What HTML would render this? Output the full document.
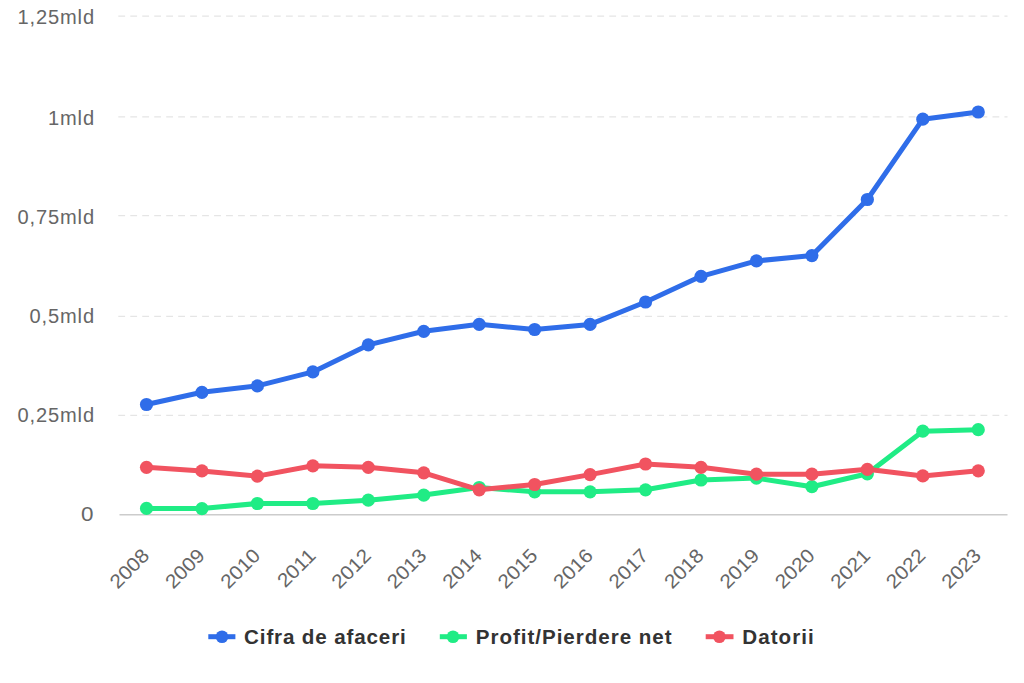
<!DOCTYPE html>
<html><head><meta charset="utf-8"><style>
html,body{margin:0;padding:0;background:#fff;width:1024px;height:683px;overflow:hidden}
svg{display:block}
text{font-family:"Liberation Sans",sans-serif}
</style></head><body>
<svg width="1024" height="683" viewBox="0 0 1024 683">
<rect width="1024" height="683" fill="#fff"/>

<line x1="118.3" y1="16.20" x2="1007.5" y2="16.20" stroke="#e5e5e5" stroke-width="1.2" stroke-dasharray="6.8,5.175"/>
<line x1="118.3" y1="116.80" x2="1007.5" y2="116.80" stroke="#e5e5e5" stroke-width="1.2" stroke-dasharray="6.8,5.175"/>
<line x1="118.3" y1="215.70" x2="1007.5" y2="215.70" stroke="#e5e5e5" stroke-width="1.2" stroke-dasharray="6.8,5.175"/>
<line x1="118.3" y1="316.40" x2="1007.5" y2="316.40" stroke="#e5e5e5" stroke-width="1.2" stroke-dasharray="6.8,5.175"/>
<line x1="118.3" y1="415.40" x2="1007.5" y2="415.40" stroke="#e5e5e5" stroke-width="1.2" stroke-dasharray="6.8,5.175"/>
<line x1="119.5" y1="514.7" x2="1007.5" y2="514.7" stroke="#cccccc" stroke-width="1.4"/>
<text transform="translate(94.98 23.6) scale(1.03 1)" font-size="19.5" fill="#666" text-anchor="end" letter-spacing="0.85">1,25mld</text>
<text transform="translate(94.98 124.5) scale(1.03 1)" font-size="19.5" fill="#666" text-anchor="end" letter-spacing="0.85">1mld</text>
<text transform="translate(94.98 223.7) scale(1.03 1)" font-size="19.5" fill="#666" text-anchor="end" letter-spacing="0.85">0,75mld</text>
<text transform="translate(94.98 322.8) scale(1.03 1)" font-size="19.5" fill="#666" text-anchor="end" letter-spacing="0.85">0,5mld</text>
<text transform="translate(94.98 421.7) scale(1.03 1)" font-size="19.5" fill="#666" text-anchor="end" letter-spacing="0.85">0,25mld</text>
<text transform="translate(93.50 520.5) scale(1.15 1)" font-size="19.5" fill="#666" text-anchor="end" letter-spacing="0">0</text>
<text transform="translate(150.50 556.9) rotate(-45) scale(1.07 1)" font-size="19.5" fill="#666" text-anchor="end">2008</text>
<text transform="translate(205.95 556.9) rotate(-45) scale(1.07 1)" font-size="19.5" fill="#666" text-anchor="end">2009</text>
<text transform="translate(261.40 556.9) rotate(-45) scale(1.07 1)" font-size="19.5" fill="#666" text-anchor="end">2010</text>
<text transform="translate(316.85 556.9) rotate(-45) scale(1.07 1)" font-size="19.5" fill="#666" text-anchor="end">2011</text>
<text transform="translate(372.30 556.9) rotate(-45) scale(1.07 1)" font-size="19.5" fill="#666" text-anchor="end">2012</text>
<text transform="translate(427.75 556.9) rotate(-45) scale(1.07 1)" font-size="19.5" fill="#666" text-anchor="end">2013</text>
<text transform="translate(483.20 556.9) rotate(-45) scale(1.07 1)" font-size="19.5" fill="#666" text-anchor="end">2014</text>
<text transform="translate(538.65 556.9) rotate(-45) scale(1.07 1)" font-size="19.5" fill="#666" text-anchor="end">2015</text>
<text transform="translate(594.10 556.9) rotate(-45) scale(1.07 1)" font-size="19.5" fill="#666" text-anchor="end">2016</text>
<text transform="translate(649.55 556.9) rotate(-45) scale(1.07 1)" font-size="19.5" fill="#666" text-anchor="end">2017</text>
<text transform="translate(705.00 556.9) rotate(-45) scale(1.07 1)" font-size="19.5" fill="#666" text-anchor="end">2018</text>
<text transform="translate(760.45 556.9) rotate(-45) scale(1.07 1)" font-size="19.5" fill="#666" text-anchor="end">2019</text>
<text transform="translate(815.90 556.9) rotate(-45) scale(1.07 1)" font-size="19.5" fill="#666" text-anchor="end">2020</text>
<text transform="translate(871.35 556.9) rotate(-45) scale(1.07 1)" font-size="19.5" fill="#666" text-anchor="end">2021</text>
<text transform="translate(926.80 556.9) rotate(-45) scale(1.07 1)" font-size="19.5" fill="#666" text-anchor="end">2022</text>
<text transform="translate(982.25 556.9) rotate(-45) scale(1.07 1)" font-size="19.5" fill="#666" text-anchor="end">2023</text>
<polyline points="146.50,404.50 201.95,392.30 257.40,385.90 312.85,371.90 368.30,344.90 423.75,331.30 479.20,324.30 534.65,329.50 590.10,324.40 645.55,302.00 701.00,276.30 756.45,260.90 811.90,255.60 867.35,199.50 922.80,119.20 978.25,112.00" fill="none" stroke="#2f6de9" stroke-width="5.0" stroke-linejoin="round" stroke-linecap="round"/>
<circle cx="146.50" cy="404.50" r="6.6" fill="#2f6de9"/>
<circle cx="201.95" cy="392.30" r="6.6" fill="#2f6de9"/>
<circle cx="257.40" cy="385.90" r="6.6" fill="#2f6de9"/>
<circle cx="312.85" cy="371.90" r="6.6" fill="#2f6de9"/>
<circle cx="368.30" cy="344.90" r="6.6" fill="#2f6de9"/>
<circle cx="423.75" cy="331.30" r="6.6" fill="#2f6de9"/>
<circle cx="479.20" cy="324.30" r="6.6" fill="#2f6de9"/>
<circle cx="534.65" cy="329.50" r="6.6" fill="#2f6de9"/>
<circle cx="590.10" cy="324.40" r="6.6" fill="#2f6de9"/>
<circle cx="645.55" cy="302.00" r="6.6" fill="#2f6de9"/>
<circle cx="701.00" cy="276.30" r="6.6" fill="#2f6de9"/>
<circle cx="756.45" cy="260.90" r="6.6" fill="#2f6de9"/>
<circle cx="811.90" cy="255.60" r="6.6" fill="#2f6de9"/>
<circle cx="867.35" cy="199.50" r="6.6" fill="#2f6de9"/>
<circle cx="922.80" cy="119.20" r="6.6" fill="#2f6de9"/>
<circle cx="978.25" cy="112.00" r="6.6" fill="#2f6de9"/>
<polyline points="146.50,508.40 201.95,508.60 257.40,503.50 312.85,503.50 368.30,500.20 423.75,495.10 479.20,487.50 534.65,491.80 590.10,491.80 645.55,489.80 701.00,480.00 756.45,478.10 811.90,486.70 867.35,473.80 922.80,431.20 978.25,429.70" fill="none" stroke="#20ec85" stroke-width="5.0" stroke-linejoin="round" stroke-linecap="round"/>
<circle cx="146.50" cy="508.40" r="6.6" fill="#20ec85"/>
<circle cx="201.95" cy="508.60" r="6.6" fill="#20ec85"/>
<circle cx="257.40" cy="503.50" r="6.6" fill="#20ec85"/>
<circle cx="312.85" cy="503.50" r="6.6" fill="#20ec85"/>
<circle cx="368.30" cy="500.20" r="6.6" fill="#20ec85"/>
<circle cx="423.75" cy="495.10" r="6.6" fill="#20ec85"/>
<circle cx="479.20" cy="487.50" r="6.6" fill="#20ec85"/>
<circle cx="534.65" cy="491.80" r="6.6" fill="#20ec85"/>
<circle cx="590.10" cy="491.80" r="6.6" fill="#20ec85"/>
<circle cx="645.55" cy="489.80" r="6.6" fill="#20ec85"/>
<circle cx="701.00" cy="480.00" r="6.6" fill="#20ec85"/>
<circle cx="756.45" cy="478.10" r="6.6" fill="#20ec85"/>
<circle cx="811.90" cy="486.70" r="6.6" fill="#20ec85"/>
<circle cx="867.35" cy="473.80" r="6.6" fill="#20ec85"/>
<circle cx="922.80" cy="431.20" r="6.6" fill="#20ec85"/>
<circle cx="978.25" cy="429.70" r="6.6" fill="#20ec85"/>
<polyline points="146.50,467.30 201.95,470.90 257.40,476.10 312.85,465.80 368.30,467.30 423.75,472.80 479.20,489.80 534.65,484.50 590.10,474.60 645.55,464.00 701.00,467.30 756.45,474.20 811.90,474.20 867.35,469.30 922.80,475.90 978.25,470.80" fill="none" stroke="#f15360" stroke-width="5.0" stroke-linejoin="round" stroke-linecap="round"/>
<circle cx="146.50" cy="467.30" r="6.6" fill="#f15360"/>
<circle cx="201.95" cy="470.90" r="6.6" fill="#f15360"/>
<circle cx="257.40" cy="476.10" r="6.6" fill="#f15360"/>
<circle cx="312.85" cy="465.80" r="6.6" fill="#f15360"/>
<circle cx="368.30" cy="467.30" r="6.6" fill="#f15360"/>
<circle cx="423.75" cy="472.80" r="6.6" fill="#f15360"/>
<circle cx="479.20" cy="489.80" r="6.6" fill="#f15360"/>
<circle cx="534.65" cy="484.50" r="6.6" fill="#f15360"/>
<circle cx="590.10" cy="474.60" r="6.6" fill="#f15360"/>
<circle cx="645.55" cy="464.00" r="6.6" fill="#f15360"/>
<circle cx="701.00" cy="467.30" r="6.6" fill="#f15360"/>
<circle cx="756.45" cy="474.20" r="6.6" fill="#f15360"/>
<circle cx="811.90" cy="474.20" r="6.6" fill="#f15360"/>
<circle cx="867.35" cy="469.30" r="6.6" fill="#f15360"/>
<circle cx="922.80" cy="475.90" r="6.6" fill="#f15360"/>
<circle cx="978.25" cy="470.80" r="6.6" fill="#f15360"/>
<line x1="208.3" y1="636.7" x2="235.4" y2="636.7" stroke="#2f6de9" stroke-width="5"/>
<circle cx="222" cy="636.7" r="6.3" fill="#2f6de9"/>
<text transform="translate(244.1 643.5) scale(1.03 1)" font-size="20" font-weight="bold" fill="#333" letter-spacing="0.83">Cifra de afaceri</text>
<line x1="439.8" y1="636.7" x2="466.9" y2="636.7" stroke="#20ec85" stroke-width="5"/>
<circle cx="453" cy="636.7" r="6.3" fill="#20ec85"/>
<text transform="translate(475.8 643.5) scale(1.03 1)" font-size="20" font-weight="bold" fill="#333" letter-spacing="0.93">Profit/Pierdere net</text>
<line x1="705.7" y1="636.7" x2="733.5" y2="636.7" stroke="#f15360" stroke-width="5"/>
<circle cx="719.4" cy="636.7" r="6.3" fill="#f15360"/>
<text transform="translate(742.3 643.5) scale(1.03 1)" font-size="20" font-weight="bold" fill="#333" letter-spacing="1.0">Datorii</text>
</svg></body></html>
